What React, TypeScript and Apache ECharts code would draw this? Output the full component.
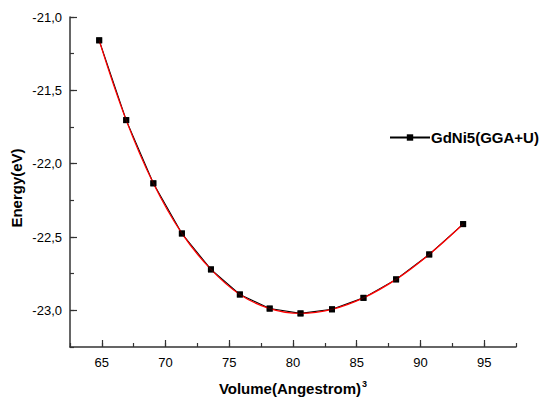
import React, { useEffect, useRef } from "react";
import * as echarts from "echarts";

// Unit-cell volume (Å^3) and total energy (eV) for GdNi5 (GGA+U)
const volumes = [64.79, 66.91, 69.04, 71.28, 73.56, 75.83, 78.17, 80.59, 83.06, 85.53, 88.09, 90.69, 93.35];
const energies = [-21.159, -21.703, -22.134, -22.476, -22.721, -22.892, -22.988, -23.021, -22.993, -22.915, -22.789, -22.619, -22.412];

const xMajorTicks = [65, 70, 75, 80, 85, 90, 95];
const yMajorTicks = [-23.0, -22.5, -22.0, -21.5, -21.0];

const seriesName = "GdNi5(GGA+U)";

const fmtComma = (v: number) => v.toFixed(1).replace(".", ",");

export default function App() {
  const ref = useRef<HTMLDivElement>(null);

  useEffect(() => {
    if (!ref.current) return;
    const chart = echarts.init(ref.current, undefined, { renderer: "svg" });
    const points = volumes.map((v, i) => [v, energies[i]]);
    const font = "'Liberation Sans', Arial, sans-serif";
    const axisColor = "#333";

    chart.setOption({
      animation: false,
      backgroundColor: "#fff",
      textStyle: { fontFamily: font },
      grid: { left: 70, right: 31, top: 17, bottom: 54, outerBoundsMode: "none", containLabel: false },
      legend: {
        data: [{ name: seriesName }],
        left: 384,
        top: 125,
        itemWidth: 40,
        itemHeight: 8,
        textStyle: { fontFamily: font, fontSize: 15, fontWeight: "bold", color: "#000", padding: [0, 0, 0, -4] },
      },
      xAxis: [
        {
          type: "value",
          min: 62.5,
          max: 97.5,
          interval: 2.5,
          splitLine: { show: false },
          axisLine: { onZero: false, lineStyle: { color: axisColor, width: 1.5 } },
          axisTick: { inside: true, length: 4, lineStyle: { color: axisColor, width: 1.2 } },
          axisLabel: {
            margin: 9,
            fontSize: 13,
            color: "#000",
            fontFamily: font,
            formatter: (v: number) => (Math.abs(v % 5) < 1e-6 ? String(v) : ""),
          },
          name: "{a|Volume(Angestrom)}{s|3}",
          nameLocation: "middle",
          nameGap: 32,
          nameTextStyle: {
            rich: {
              a: { fontSize: 15, fontWeight: "bold", color: "#000", fontFamily: font },
              s: { fontSize: 9, fontWeight: "bold", color: "#000", fontFamily: font, padding: [0, 0, 9, 1] },
            },
          },
        },
        {
          type: "value",
          min: 62.5,
          max: 97.5,
          position: "bottom",
          splitLine: { show: false },
          axisLine: { show: false },
          axisLabel: { show: false },
          axisTick: { inside: true, length: 7, customValues: xMajorTicks, lineStyle: { color: axisColor, width: 1.2 } },
        },
      ],
      yAxis: [
        {
          type: "value",
          min: -23.25,
          max: -21.0,
          interval: 0.25,
          splitLine: { show: false },
          axisLine: { show: true, onZero: false, lineStyle: { color: axisColor, width: 1.5 } },
          axisTick: { show: true, inside: true, length: 4, lineStyle: { color: axisColor, width: 1.2 } },
          axisLabel: {
            margin: 8,
            fontSize: 13,
            color: "#000",
            fontFamily: font,
            formatter: (v: number) => (Math.abs((v * 2) % 1) < 1e-6 ? fmtComma(v) : ""),
          },
        },
        {
          type: "value",
          min: -23.25,
          max: -21.0,
          position: "left",
          splitLine: { show: false },
          axisLine: { show: false },
          axisLabel: { show: false },
          axisTick: { show: true, inside: true, length: 7, customValues: yMajorTicks, lineStyle: { color: axisColor, width: 1.2 } },
        },
      ],
      graphic: [
        {
          type: "text",
          x: 16,
          y: 188,
          rotation: Math.PI / 2,
          style: {
            text: "Energy(eV)",
            fontSize: 15,
            fontWeight: "bold",
            fontFamily: font,
            fill: "#000",
            textAlign: "center",
            textVerticalAlign: "middle",
          },
        },
      ],
      series: [
        {
          name: seriesName,
          type: "line",
          data: points,
          symbol: "rect",
          symbolSize: 6,
          itemStyle: { color: "#000" },
          lineStyle: { color: "#000", width: 1.1 },
          z: 2,
        },
        {
          name: "fit",
          type: "line",
          data: points,
          smooth: 0.4,
          showSymbol: false,
          symbol: "none",
          lineStyle: { color: "#ff0000", width: 1.3 },
          z: 3,
        },
        {
          name: "points",
          type: "scatter",
          data: points,
          symbol: "rect",
          symbolSize: 6,
          itemStyle: { color: "#000" },
          z: 4,
        },
      ],
    });

    return () => chart.dispose();
  }, []);

  return <div ref={ref} style={{ position: "absolute", left: 0, top: 0, width: 547, height: 401 }} />;
}
